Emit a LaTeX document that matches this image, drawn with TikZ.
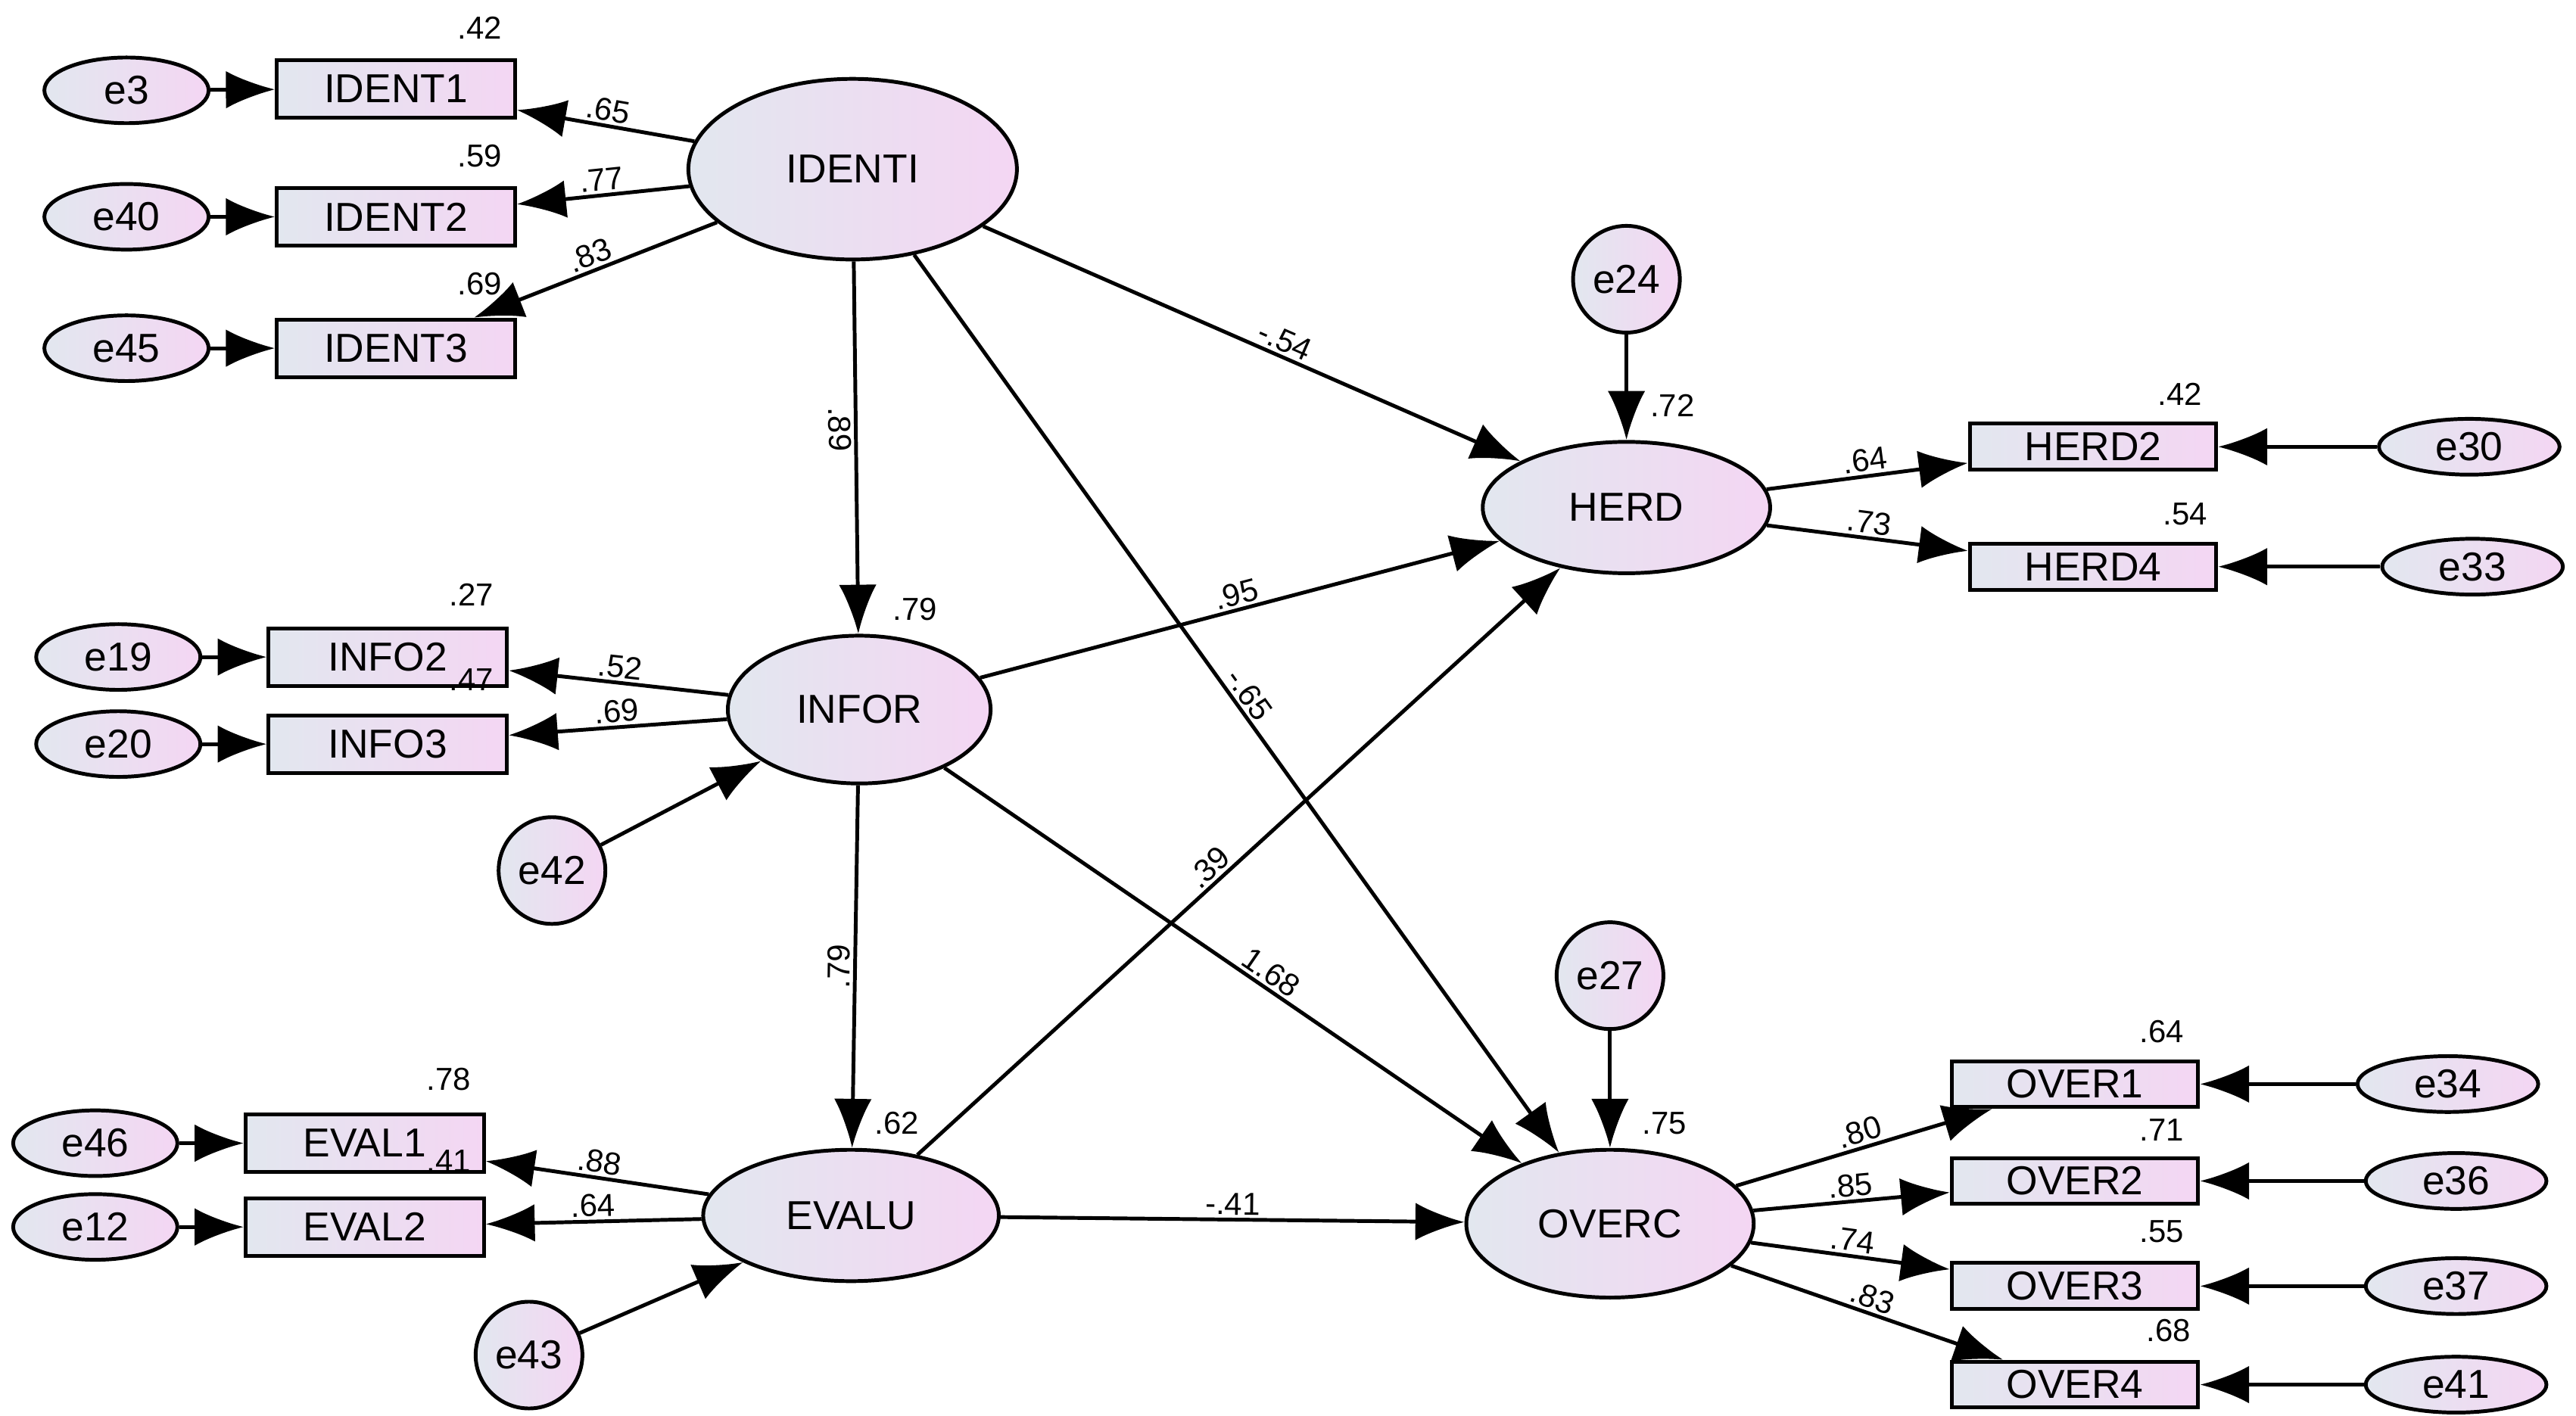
\documentclass[tikz,border=0pt]{standalone}
\usepackage{fontspec}
\setmainfont{Liberation Sans}
\usetikzlibrary{shapes.geometric,arrows.meta}
\definecolor{gradleft}{HTML}{E2E7EF}
\definecolor{gradright}{HTML}{F4D6F3}
\tikzset{
  grad/.style={draw=black, line width=1.3pt, left color=gradleft, right color=gradright},
  latent/.style={grad, ellipse, inner sep=0pt, font=\fontsize{14}{16}\selectfont},
  obs/.style={grad, rectangle, minimum width=2.9cm, minimum height=0.7cm, inner sep=0pt, font=\fontsize{14}{16}\selectfont},
  err/.style={grad, ellipse, minimum width=2cm, minimum height=0.8cm, inner sep=0pt, font=\fontsize{14}{16}\selectfont},
  errc/.style={grad, circle, minimum size=1.3cm, inner sep=0pt, font=\fontsize{14}{16}\selectfont},
  path/.style={line width=1.3pt, -{Latex[length=17pt,width=13pt]}},
  coef/.style={font=\fontsize{11}{13}\selectfont, sloped, above, inner sep=1pt},
  rsq/.style={font=\fontsize{11}{13}\selectfont}
}
\begin{document}
\begin{tikzpicture}[x=0.02cm,y=-0.02cm]
\useasboundingbox (0,0) rectangle (1568,862);
% latent variables
\node [latent, minimum width=4cm, minimum height=2.2cm] (identi) at (519,103) {IDENTI};
\node [latent, minimum width=3.2cm, minimum height=1.8cm] (infor) at (523,432) {INFOR};
\node [latent, minimum width=3.6cm, minimum height=1.6cm] (evalu) at (518,740) {EVALU};
\node [latent, minimum width=3.5cm, minimum height=1.6cm] (herd) at (990,309) {HERD};
\node [latent, minimum width=3.5cm, minimum height=1.8cm] (overc) at (980,745) {OVERC};
% indicators
\node [obs] (ident1) at (241,54) {IDENT1};
\node [obs] (ident2) at (241,132) {IDENT2};
\node [obs] (ident3) at (241,212) {IDENT3};
\node [obs] (info2) at (236,400) {INFO2};
\node [obs] (info3) at (236,453) {INFO3};
\node [obs] (eval1) at (222,696) {EVAL1};
\node [obs] (eval2) at (222,747) {EVAL2};
\node [obs, minimum height=0.56cm, minimum width=3cm] (herd2) at (1274,272) {HERD2};
\node [obs, minimum height=0.56cm, minimum width=3cm] (herd4) at (1274,345) {HERD4};
\node [obs, minimum height=0.56cm, minimum width=3cm] (over1) at (1263,660) {OVER1};
\node [obs, minimum height=0.56cm, minimum width=3cm] (over2) at (1263,719) {OVER2};
\node [obs, minimum height=0.56cm, minimum width=3cm] (over3) at (1263,783) {OVER3};
\node [obs, minimum height=0.56cm, minimum width=3cm] (over4) at (1263,843) {OVER4};
% errors
\node [err] (e3) at (77,55) {e3};
\node [err] (e40) at (77,132) {e40};
\node [err] (e45) at (77,212) {e45};
\node [err] (e19) at (72,400) {e19};
\node [err] (e20) at (72,453) {e20};
\node [err] (e46) at (58,696) {e46};
\node [err] (e12) at (58,747) {e12};
\node [err, minimum width=2.2cm, minimum height=0.68cm] (e30) at (1503,272) {e30};
\node [err, minimum width=2.2cm, minimum height=0.68cm] (e33) at (1505,345) {e33};
\node [err, minimum width=2.2cm, minimum height=0.68cm] (e34) at (1490,660) {e34};
\node [err, minimum width=2.2cm, minimum height=0.68cm] (e36) at (1495,719) {e36};
\node [err, minimum width=2.2cm, minimum height=0.68cm] (e37) at (1495,783) {e37};
\node [err, minimum width=2.2cm, minimum height=0.68cm] (e41) at (1495,843) {e41};
\node [errc] (e24) at (990,170) {e24};
\node [errc] (e42) at (336,530) {e42};
\node [errc] (e27) at (980,594) {e27};
\node [errc] (e43) at (322,825) {e43};
% error paths
\foreach \a/\b in {e3/ident1,e40/ident2,e45/ident3,e19/info2,e20/info3,e46/eval1,e12/eval2,
  e30/herd2,e33/herd4,e34/over1,e36/over2,e37/over3,e41/over4,e24/herd,e42/infor,e27/overc,e43/evalu}
  \draw [path] (\a) -- (\b);
% loadings
\draw [path] (identi) -- node [coef] {.65} (ident1);
\draw [path] (identi) -- node [coef] {.77} (ident2);
\draw [path] (identi) -- node [coef] {.83} (ident3);
\draw [path] (infor) -- node [coef] {.52} (info2);
\draw [path] (infor) -- node [coef] {.69} (info3);
\draw [path] (evalu) -- node [coef] {.88} (eval1);
\draw [path] (evalu) -- node [coef] {.64} (eval2);
\draw [path] (herd) -- node [coef] {.64} (herd2);
\draw [path] (herd) -- node [coef] {.73} (herd4);
\draw [path] (overc) -- node [coef] {.80} (over1);
\draw [path] (overc) -- node [coef] {.85} (over2);
\draw [path] (overc) -- node [coef] {.74} (over3);
\draw [path] (overc) -- node [coef] {.83} (over4);
% structural paths
\draw [path] (identi) -- node [coef, below, pos=0.45] {.89} (infor);
\draw [path] (identi) -- node [coef, pos=0.55] {-.54} (herd);
\draw [path] (identi) -- node [coef, pos=0.5] {-.65} (overc);
\draw [path] (infor) -- node [coef, pos=0.5] {.95} (herd);
\draw [path] (infor) -- node [coef, pos=0.55] {1.68} (overc);
\draw [path] (evalu) -- node [coef, pos=0.47] {.39} (herd);
\draw [path] (infor) -- node [coef, pos=0.5] {.79} (evalu);
\draw [path] (evalu) -- node [coef, pos=0.5] {-.41} (overc);
% squared multiple correlations
\foreach \x/\y/\t in {292/17/.42, 292/95/.59, 292/173/.69, 287/362/.27, 287/414/.47,
  273/657/.78, 273/707/.41, 557/371/.79, 546/684/.62, 1018/247/.72, 1327/240/.42,
  1330/313/.54, 1316/628/.64, 1316/688/.71, 1316/750/.55, 1320/810/.68, 1013/684/.75}
  \node [rsq] at (\x,\y) {\t};
\end{tikzpicture}
\end{document}
